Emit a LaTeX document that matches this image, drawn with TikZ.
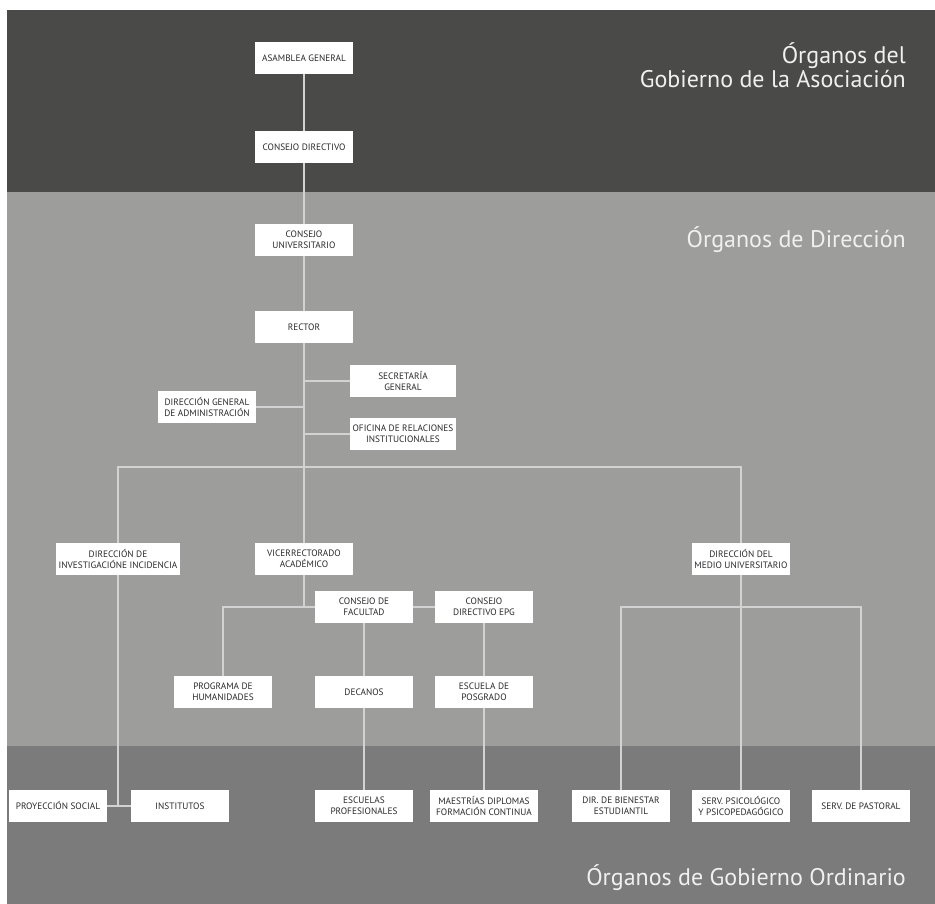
\documentclass[tikz,border=0pt]{standalone}
\usepackage{fontspec}
\setmainfont{PT Sans}
\definecolor{banddark}{HTML}{4A4A48}
\definecolor{bandmid}{HTML}{9D9D9B}
\definecolor{bandlow}{HTML}{7B7B7B}
\definecolor{linkgray}{HTML}{D2D2D2}
\definecolor{boxtext}{HTML}{2A2A2A}
\tikzstyle{orgbox} = [fill=white, text=boxtext, rectangle, minimum width=98pt, minimum height=32pt, inner sep=1pt, align=center, font=\fontsize{9.3}{11}\selectfont]
\tikzstyle{bandtitle} = [text=white!94!black, anchor=base east, inner sep=0pt, font=\fontsize{24}{24}\selectfont]
\tikzstyle{link} = [draw=linkgray, line width=1.2pt]

\begin{document}
\begin{tikzpicture}[x=1pt,y=-1pt]
% bands
\fill[white] (0,0) rectangle (935,904);
\fill[banddark] (7,10) rectangle (935,192);
\fill[bandmid] (7,192) rectangle (935,746);
\fill[bandlow] (7,746) rectangle (935,904);
\node[bandtitle] (tasoc1) at (906,64) {Órganos del};
\node[bandtitle] (tasoc2) at (906,88) {Gobierno de la Asociación};
\node[bandtitle] (tdir) at (906,248) {Órganos de Dirección};
\node[bandtitle] (tord) at (906,885) {Órganos de Gobierno Ordinario};

% boxes
\node[orgbox] (asamblea) at (304,58) {ASAMBLEA GENERAL};
\node[orgbox] (cdir) at (304,147) {CONSEJO DIRECTIVO};
\node[orgbox] (cuni) at (304,240) {CONSEJO\\UNIVERSITARIO};
\node[orgbox] (rector) at (304,327) {RECTOR};
\node[orgbox, minimum width=106pt] (secgen) at (403,381) {SECRETARÍA\\GENERAL};
\node[orgbox] (dga) at (207,407) {DIRECCIÓN GENERAL\\DE ADMINISTRACIÓN};
\node[orgbox, minimum width=106pt] (ori) at (403,434) {OFICINA DE RELACIONES\\INSTITUCIONALES};
\coordinate (split) at (304,467);
\node[orgbox, minimum width=124pt] (invest) at (118,559) {DIRECCIÓN DE\\INVESTIGACIÓNE INCIDENCIA};
\node[orgbox] (vice) at (304,559) {VICERRECTORADO\\ACADÉMICO};
\node[orgbox] (dmu) at (741,559) {DIRECCIÓN DEL\\MEDIO UNIVERSITARIO};
\node[orgbox] (cfac) at (364,607) {CONSEJO DE\\FACULTAD};
\node[orgbox] (cepg) at (484,607) {CONSEJO\\DIRECTIVO EPG};
\node[orgbox] (prog) at (223,692) {PROGRAMA DE\\HUMANIDADES};
\node[orgbox] (decanos) at (364,692) {DECANOS};
\node[orgbox] (posgrado) at (484,692) {ESCUELA DE\\POSGRADO};
\node[orgbox] (proy) at (58,806) {PROYECCIÓN SOCIAL};
\node[orgbox] (inst) at (180,806) {INSTITUTOS};
\node[orgbox] (escprof) at (364,806) {ESCUELAS\\PROFESIONALES};
\node[orgbox, minimum width=108pt] (maestrias) at (484,806) {MAESTRÍAS DIPLOMAS\\FORMACIÓN CONTINUA};
\node[orgbox] (bienestar) at (621,806) {DIR. DE BIENESTAR\\ESTUDIANTIL};
\node[orgbox] (psico) at (741,806) {SERV. PSICOLÓGICO\\Y PSICOPEDAGÓGICO};
\node[orgbox] (pastoral) at (861,806) {SERV. DE PASTORAL};
\coordinate (musplit) at (741,607);

% links
\draw[link] (asamblea) -- (cdir) -- (cuni) -- (rector) -- (vice);
\draw[link] (secgen.west) -- (secgen.west -| rector.south);
\draw[link] (dga.east) -- (dga.east -| rector.south);
\draw[link] (ori.west) -- (ori.west -| rector.south);
\draw[link] (invest.north) |- (split) -| (dmu.north);
\draw[link] (vice.south) |- (cfac.west);
\draw[link] (prog.north) |- (cfac.west);
\draw[link] (cfac) -- (cepg);
\draw[link] (cfac) -- (decanos) -- (escprof);
\draw[link] (cepg) -- (posgrado) -- (maestrias);
\draw[link] (invest.south) -- (invest.south |- proy.east);
\draw[link] (proy) -- (inst);
\draw[link] (dmu) -- (psico);
\draw[link] (bienestar.north) |- (musplit) -| (pastoral.north);
\end{tikzpicture}
\end{document}
